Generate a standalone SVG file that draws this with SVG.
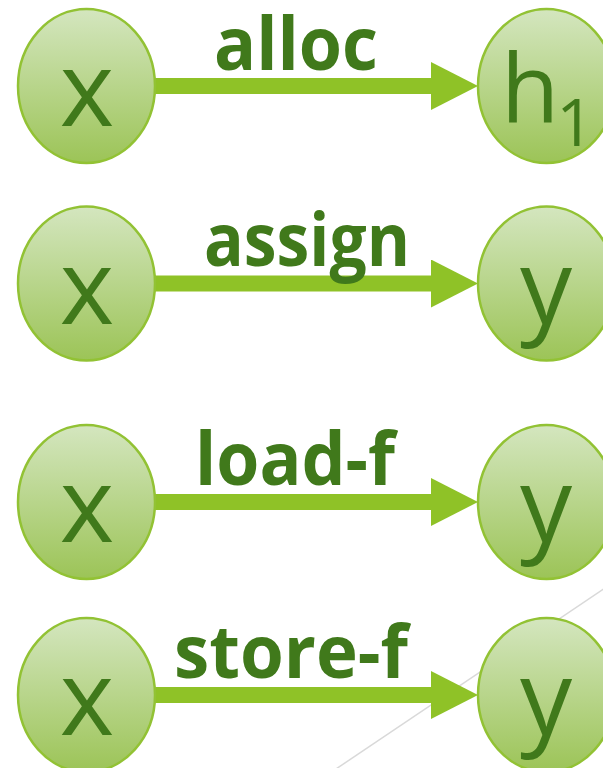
<svg xmlns="http://www.w3.org/2000/svg" width="603" height="768" viewBox="0 0 603 768">
  <defs>
    <linearGradient id="nodeFill" x1="0" y1="0" x2="0" y2="1">
      <stop offset="0" stop-color="#d4e6bf"/>
      <stop offset="1" stop-color="#9cc457"/>
    </linearGradient>
    <marker id="ah" markerUnits="userSpaceOnUse" markerWidth="47" markerHeight="48" viewBox="0 0 47 48" refX="0" refY="24" orient="auto">
      <path d="M0,0 L47,24 L0,48 Z" fill="#8fc227"/>
    </marker>
    <style>
      .node { fill: url(#nodeFill); stroke: #92c234; stroke-width: 2.5; }
      .ntext { font-family: "Open Sans", "Liberation Sans", sans-serif; fill: #40791b; text-anchor: middle; }
      .elabel { font-family: "Open Sans", "Liberation Sans", sans-serif; font-weight: bold; font-size: 74px; fill: #40791b; text-anchor: middle; }
      .edge { stroke: #8fc227; stroke-width: 16; stroke-linecap: round; fill: none; marker-end: url(#ah); }
    </style>
  </defs>
  <rect width="603" height="768" fill="#ffffff"/>
  <line x1="620" y1="578" x2="330" y2="773" stroke="#d9d9d9" stroke-width="1.5"/>

  <g id="connectors">
    <path class="edge" d="M155,86 L431,86"/>
    <path class="edge" d="M155,283.5 L431,283.5"/>
    <path class="edge" d="M155,502 L431,502"/>
    <path class="edge" d="M155,695 L431,695"/>
    <text class="elabel" x="296" y="70" textLength="164" lengthAdjust="spacingAndGlyphs">alloc</text>
    <text class="elabel" x="307" y="266" textLength="206" lengthAdjust="spacingAndGlyphs">assign</text>
    <text class="elabel" x="295" y="485" textLength="200" lengthAdjust="spacingAndGlyphs">load-f</text>
    <text class="elabel" x="291" y="678" textLength="234" lengthAdjust="spacingAndGlyphs">store-f</text>
  </g>

  <g id="x1">
    <ellipse class="node" cx="86.5" cy="86" rx="68.5" ry="77"/>
    <text class="ntext" x="87" y="126" font-size="104">x</text>
  </g>
  <g id="h1">
    <ellipse class="node" cx="546.5" cy="86" rx="68.5" ry="77"/>
    <text class="ntext" x="501" y="122" font-size="95" style="text-anchor:start">h<tspan font-size="66" dx="-3" dy="24">1</tspan></text>
  </g>

  <g id="x2">
    <ellipse class="node" cx="86.5" cy="283.5" rx="68.5" ry="77"/>
    <text class="ntext" x="87" y="323.5" font-size="104">x</text>
  </g>
  <g id="y2">
    <ellipse class="node" cx="546.5" cy="283.5" rx="68.5" ry="77"/>
    <text class="ntext" x="546" y="323.5" font-size="104">y</text>
  </g>

  <g id="x3">
    <ellipse class="node" cx="86.5" cy="502" rx="68.5" ry="77"/>
    <text class="ntext" x="87" y="542" font-size="104">x</text>
  </g>
  <g id="y3">
    <ellipse class="node" cx="546.5" cy="502" rx="68.5" ry="77"/>
    <text class="ntext" x="546" y="542" font-size="104">y</text>
  </g>

  <g id="x4">
    <ellipse class="node" cx="86.5" cy="695" rx="68.5" ry="77"/>
    <text class="ntext" x="87" y="735" font-size="104">x</text>
  </g>
  <g id="y4">
    <ellipse class="node" cx="546.5" cy="695" rx="68.5" ry="77"/>
    <text class="ntext" x="546" y="735" font-size="104">y</text>
  </g>
</svg>
